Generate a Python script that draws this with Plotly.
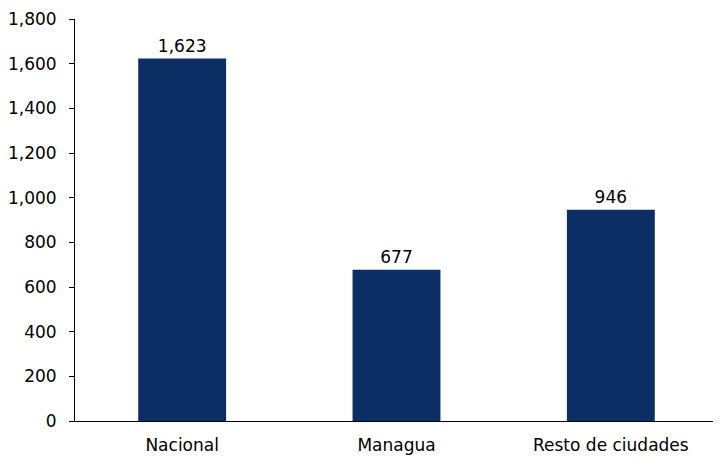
import plotly.graph_objects as go

categories = ["Nacional", "Managua", "Resto de ciudades"]
values = [1623, 677, 946]
y_ticks = [0, 200, 400, 600, 800, 1000, 1200, 1400, 1600, 1800]
y_tick_labels = ["0", "200", "400", "600", "800", "1,000", "1,200", "1,400", "1,600", "1,800"]

fig = go.Figure(go.Bar(
    x=categories, y=values,
    marker=dict(color="#0B2F64", line=dict(width=0)),
    text=[f"{v:,}" for v in values],
    textposition="outside",
    textfont=dict(size=17, color="#000000"),
    cliponaxis=False,
))
fig.update_layout(
    width=713, height=457,
    margin=dict(l=67, r=3, t=11, b=44),
    paper_bgcolor="white", plot_bgcolor="white",
    font=dict(family="DejaVu Sans", size=17, color="#000000"),
    bargap=0.59,
    showlegend=False,
)
fig.update_yaxes(
    range=[0, 1800], tickvals=y_ticks, ticktext=y_tick_labels,
    showgrid=False, zeroline=False,
    showline=True, linecolor="#000000", linewidth=1,
    ticks="outside", ticklen=5, tickcolor="#000000",
    ticklabelstandoff=9, automargin=False, ticklabeloverflow="allow",
)
fig.update_xaxes(
    showgrid=False, showline=True, linecolor="#000000", linewidth=1,
    ticks="", ticklabelstandoff=9, automargin=False,
)
fig.write_html("out.html")
